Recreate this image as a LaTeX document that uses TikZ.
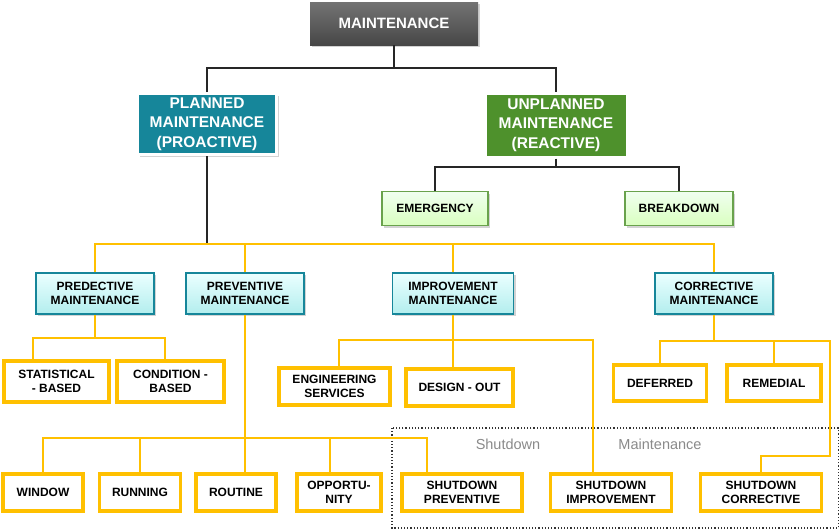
\documentclass[tikz,border=0pt]{standalone}
\usepackage{fontspec}
\setmainfont{Liberation Sans}
\usepackage{tikz}
\usetikzlibrary{shadows}
\definecolor{tealbox}{HTML}{16869A}
\definecolor{greenbox}{HTML}{4E912C}
\definecolor{ylw}{HTML}{FFC000}
\definecolor{lblgray}{HTML}{8A8A8A}

\begin{document}
\begin{tikzpicture}[x=1pt,y=-1pt,
    every node/.style={align=center, inner sep=0pt},
    sz/.style n args={2}{minimum width=#1pt, minimum height=#2pt},
    shd/.style={drop shadow={shadow xshift=2pt, shadow yshift=-2pt, opacity=0.35}},
    topbox/.style={shd, top color=black!55, bottom color=black!72, text=white,
        font=\fontsize{15}{18}\selectfont\bfseries},
    mainbox/.style={shd, draw=white, line width=3pt, text=white,
        font=\fontsize{15.5}{19.5}\selectfont\bfseries},
    subbox/.style={shd, top color=green!6, bottom color=green!45!lime!25, draw=greenbox!85,
        line width=1.5pt, font=\fontsize{12}{14.5}\selectfont\bfseries},
    kindbox/.style={shd, top color=cyan!8, bottom color=cyan!55!teal!30, draw=tealbox,
        line width=1.5pt, font=\fontsize{12}{14.5}\selectfont\bfseries},
    ybox/.style={fill=white, draw=ylw, line width=3.5pt,
        font=\fontsize{12}{14.5}\selectfont\bfseries},
    lbl/.style={text=lblgray, font=\fontsize{14.5}{17}\selectfont},
    bline/.style={draw=black!85, line width=2pt},
    yline/.style={draw=ylw, line width=2pt}]
\useasboundingbox (0,0) rectangle (840,530);

\node[topbox, sz={168}{43}] (maint) at (394,23.5) {MAINTENANCE};
\node[mainbox, fill=tealbox, sz={139}{61}] (planned) at (207,124) {PLANNED\\MAINTENANCE\\(PROACTIVE)};
\node[mainbox, fill=greenbox, sz={142}{64}] (unplanned) at (556,125) {UNPLANNED\\MAINTENANCE\\(REACTIVE)};
\node[subbox, sz={106}{34}] (emergency) at (435,208.5) {EMERGENCY};
\node[subbox, sz={108}{34}] (breakdown) at (679,208.5) {BREAKDOWN};

\node[kindbox, sz={118}{41}] (predective) at (95,293.5) {PREDECTIVE\\MAINTENANCE};
\node[kindbox, sz={118}{41}] (preventive) at (245,293.5) {PREVENTIVE\\MAINTENANCE};
\node[kindbox, sz={121}{41}] (improvement) at (453,293.5) {IMPROVEMENT\\MAINTENANCE};
\node[kindbox, sz={118}{41}] (corrective) at (714,293.5) {CORRECTIVE\\MAINTENANCE};

\node[ybox, sz={105}{41}] (statistical) at (56.5,381.5) {STATISTICAL\\- BASED};
\node[ybox, sz={107}{41}] (condition) at (170.5,381.5) {CONDITION -\\BASED};
\node[ybox, sz={111}{37}] (engineering) at (334.5,386.5) {ENGINEERING\\SERVICES};
\node[ybox, sz={107}{37}] (design) at (459.5,387.5) {DESIGN - OUT};
\node[ybox, sz={93}{36}] (deferred) at (660,383) {DEFERRED};
\node[ybox, sz={94}{36}] (remedial) at (774,383) {REMEDIAL};

\draw[dotted, line width=1.2pt, black!80] (392,428) rectangle (838.5,528);
\node[lbl] (shutlbl) at (508,444) {Shutdown};
\node[lbl] (mntlbl) at (660,444) {Maintenance};

\node[ybox, sz={80}{37}] (window) at (43,492.5) {WINDOW};
\node[ybox, sz={81}{37}] (running) at (140,492.5) {RUNNING};
\node[ybox, sz={80}{37}] (routine) at (236,492.5) {ROUTINE};
\node[ybox, sz={84}{37}] (opportunity) at (339,492.5) {OPPORTU-\\NITY};
\node[ybox, sz={120}{37}] (shutprev) at (462,492.5) {SHUTDOWN\\PREVENTIVE};
\node[ybox, sz={121}{37}] (shutimp) at (611,492.5) {SHUTDOWN\\IMPROVEMENT};
\node[ybox, sz={121}{37}] (shutcorr) at (761,492.5) {SHUTDOWN\\CORRECTIVE};

\coordinate (j1) at (maint.south |- 0,68);
\coordinate (j2) at (unplanned.south |- 0,167);
\coordinate (j3) at (planned.south |- 0,244);
\coordinate (j4) at (predective.south |- 0,338);
\coordinate (j5) at (preventive.south |- 0,438);
\coordinate (j6) at (improvement.south |- 0,340);
\coordinate (j7) at (corrective.south |- 0,341);
\coordinate (j8) at (830,456);

\draw[bline] (maint) -- (j1);
\draw[bline] (planned) |- (j1) -| (unplanned);
\draw[bline] (unplanned) -- (j2);
\draw[bline] (emergency) |- (j2) -| (breakdown);
\draw[bline] (planned) -- (j3);

\draw[yline] (predective) |- (j3) -| (corrective);
\draw[yline] (preventive) -- (preventive |- j3);
\draw[yline] (improvement) -- (improvement |- j3);

\draw[yline] (predective) -- (j4);
\draw[yline] ([xshift=-24pt]statistical.north) |- (j4) -| ([xshift=-6pt]condition.north);

\draw[yline] (preventive) -- (j5);
\draw[yline] (window) |- (j5) -| ([xshift=-35pt]shutprev.north);
\draw[yline] (running) -- (running |- j5);
\draw[yline] (j5) -- (j5 |- routine.north);
\draw[yline] ([xshift=-9pt]opportunity.north) -- ([xshift=-9pt]opportunity.north |- j5);

\draw[yline] (improvement) -- (improvement |- design.north);
\draw[yline] ([xshift=4pt]engineering.north) |- (j6) -| ([xshift=-18pt]shutimp.north);

\draw[yline] (corrective) -- (j7);
\draw[yline] (deferred) |- (j7) -| (j8) -| (shutcorr);
\draw[yline] (remedial) -- (remedial |- j7);
\end{tikzpicture}
\end{document}
